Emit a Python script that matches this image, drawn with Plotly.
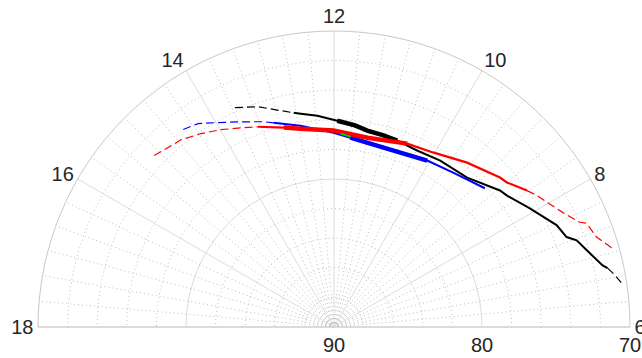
import numpy as np
import plotly.graph_objects as go

# ---- data: hour of day and elevation (deg) ----
black_dash_h = [13.62, 13.27, 12.92, 12.71]
black_dash_e = [73.74, 74.25, 74.95, 75.27]
black_h = [12.71, 12.59, 12.30, 11.94, 11.36, 10.75, 10.32, 9.83, 9.22, 8.63, 8.48, 8.08, 7.64, 7.41, 7.31, 7.13, 6.86, 6.81]
black_e = [75.27, 75.41, 75.68, 76.06, 76.54, 76.70, 76.82, 76.66, 76.48, 75.48, 75.32, 74.53, 73.46, 73.15, 72.59, 72.16, 71.38, 71.09]
black_thick_h = [11.94, 11.60, 11.36, 11.05, 10.75]
black_thick_e = [76.06, 76.30, 76.54, 76.62, 76.70]
black_dash2_h = [6.81, 6.70, 6.56]
black_dash2_e = [71.09, 70.70, 70.29]

red_dash_h = [15.09, 14.85, 14.62, 14.30, 13.99, 13.62, 13.39]
red_dash_e = [73.21, 73.49, 73.66, 74.14, 74.63, 75.22, 75.52]
red_h = [13.39, 12.94, 12.64, 12.01, 11.33, 10.55, 10.03, 9.40, 8.80, 8.66, 8.35]
red_e = [75.52, 76.11, 76.41, 76.73, 77.01, 76.66, 76.44, 75.71, 74.91, 74.77, 74.03]
red_thick_h = [12.94, 12.64, 12.01, 11.33, 10.55]
red_thick_e = [76.11, 76.41, 76.73, 77.01, 76.66]
red_dash2_h = [8.35, 8.20, 7.77, 7.54, 7.49, 7.26, 7.05]
red_dash2_e = [74.03, 73.67, 72.71, 71.96, 71.55, 71.25, 70.44]

blue_dash_h = [14.49, 14.25, 13.97, 13.63, 13.26, 13.10]
blue_dash_e = [73.21, 73.47, 74.12, 74.77, 75.34, 75.61]
blue_h = [13.10, 12.63, 12.01, 11.67, 10.97, 10.05, 9.49, 8.84]
blue_e = [75.61, 76.21, 76.87, 77.16, 77.43, 77.11, 76.82, 76.15]
blue_thick_h = [11.67, 10.97, 10.05]
blue_thick_e = [77.16, 77.43, 77.11]

green_h = [11.87, 11.67]
green_e = [76.93, 77.09]

hour_ticks = [6, 8, 10, 12, 14, 16, 18]
elev_ticks = [90, 80, 70]

def th(h):
    return [(x - 6) * 15 for x in h]

def rr(e):
    return [90 - x for x in e]

fig = go.Figure()

grid_c = "#bdbdbd"
dot = "1px,3px"
# minor dotted radial lines every 5 degrees
for a in range(5, 180, 5):
    if a % 30 == 0:
        continue
    fig.add_trace(go.Scatterpolar(r=[0, 20], theta=[a, a], mode="lines",
                                  line=dict(color=grid_c, width=1, dash=dot),
                                  hoverinfo="skip", showlegend=False))
# minor dotted circles
tt = np.linspace(0, 180, 181)
for rv in [2, 4, 6, 8, 12, 14, 16, 18]:
    fig.add_trace(go.Scatterpolar(r=[rv] * len(tt), theta=tt, mode="lines",
                                  line=dict(color=grid_c, width=1, dash=dot),
                                  hoverinfo="skip", showlegend=False))

DASH = "8px,4px"

def add(h, e, color, width, dash="solid"):
    fig.add_trace(go.Scatterpolar(r=rr(e), theta=th(h), mode="lines",
                                  line=dict(color=color, width=width, dash=dash),
                                  showlegend=False))

add(black_dash_h, black_dash_e, "black", 1.2, DASH)
add(black_h, black_e, "black", 2)
add(black_thick_h, black_thick_e, "black", 4.5)
add(black_dash2_h, black_dash2_e, "black", 1.2, DASH)
add(blue_dash_h, blue_dash_e, "blue", 1.2, DASH)
add(blue_h, blue_e, "blue", 2)
add(blue_thick_h, blue_thick_e, "blue", 4.5)
add(red_dash_h, red_dash_e, "red", 1.2, DASH)
add(red_h, red_e, "red", 2.2)
add(red_thick_h, red_thick_e, "red", 4.5)
add(red_dash2_h, red_dash2_e, "red", 1.2, DASH)
add(green_h, green_e, "#00cc00", 2)

fig.update_layout(
    width=642, height=358,
    margin=dict(l=0, r=0, t=0, b=0),
    paper_bgcolor="white",
    font=dict(family="Liberation Sans, Arial, sans-serif", size=20, color="#262626"),
    polar=dict(
        domain=dict(x=[37 / 642, 631 / 642], y=[31 / 358, 327 / 358]),
        sector=[0, 180],
        bgcolor="white",
        angularaxis=dict(
            direction="counterclockwise", rotation=0, thetaunit="degrees",
            tickmode="array", tickvals=th(hour_ticks), ticktext=[str(h) for h in hour_ticks],
            showgrid=True, gridcolor="#dcdcdc", gridwidth=1,
            showline=True, linecolor="#c8c8c8", linewidth=1, ticks="",
            tickfont=dict(size=20),
        ),
        radialaxis=dict(
            range=[0, 20], angle=0, side="clockwise",
            tickmode="array", tickvals=rr(elev_ticks), ticktext=[str(e) for e in elev_ticks],
            showgrid=True, gridcolor="#dcdcdc", gridwidth=1,
            showline=True, linecolor="#dcdcdc", linewidth=1, ticks="",
            tickangle=0, tickfont=dict(size=20),
        ),
    ),
)

fig.write_html("out.html")
